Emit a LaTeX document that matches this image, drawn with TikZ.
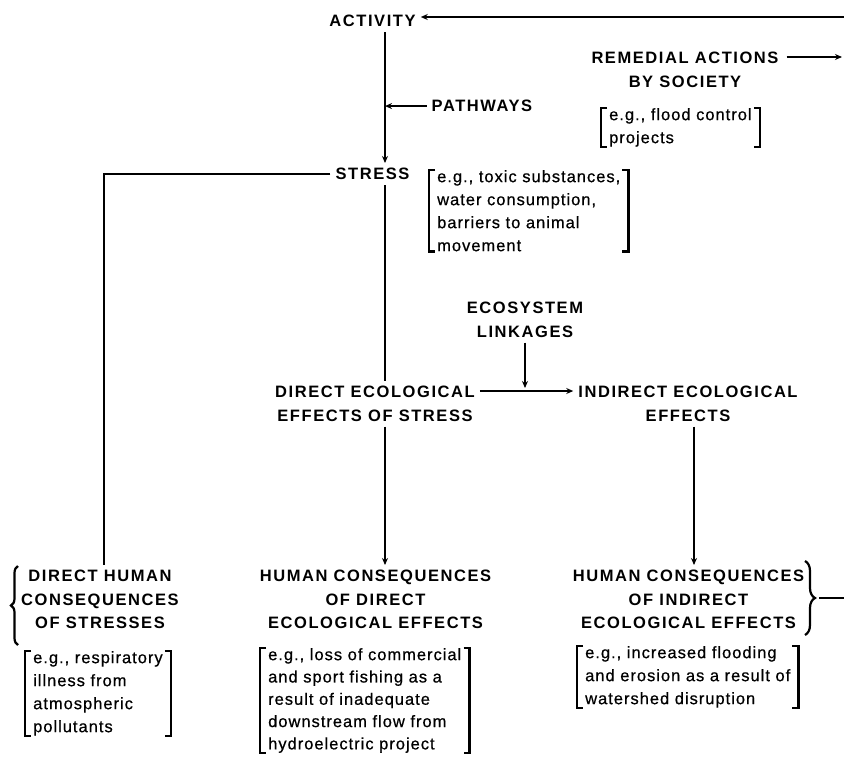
\documentclass[tikz,border=0pt]{standalone}
\usepackage{fontspec}
\setmainfont{Liberation Sans}[LetterSpace=6,FakeBold=0.6]
\newfontfamily\headfont{Liberation Sans}[LetterSpace=9.5]
\usetikzlibrary{arrows.meta,decorations.pathreplacing}
\newcommand\bracketize[1]{%
  \draw[brk] ([xshift=6pt]#1.north west) -- (#1.north west) -- (#1.south west) -- ([xshift=6pt]#1.south west);
  \draw[brk] ([xshift=-6pt]#1.north east) -- (#1.north east) -- (#1.south east) -- ([xshift=-6pt]#1.south east);}
\begin{document}
\begin{tikzpicture}[x=1pt,y=-1pt,
  head/.style={font={\headfont\bfseries\fontsize{16.5}{23.5}\selectfont}, align=center, inner sep=5pt, anchor=north},
  ex/.style={font={\fontsize{16.5}{23}\selectfont}, align=left, inner xsep=8pt, inner ysep=0pt, anchor=north west},
  ln/.style={line width=1.6pt},
  arr/.style={ln, -{Stealth[length=7pt,width=6pt]}},
  brk/.style={line width=2.2pt}]
\useasboundingbox (0,0) rectangle (844,756);
\fill[white] (0,0) rectangle (844,756);
% headings
\node[head] (act) at (372.5,10) {ACTIVITY};
\node[head] (rem) at (685,47) {REMEDIAL ACTIONS\\BY SOCIETY};
\node[head] (pw) at (482,95) {PATHWAYS};
\node[head] (stress) at (372.5,163) {STRESS};
\node[head] (eco) at (525,297) {ECOSYSTEM\\LINKAGES};
\node[head] (decol) at (375,381) {DIRECT ECOLOGICAL\\EFFECTS OF STRESS};
\node[head] (indir) at (688,381) {INDIRECT ECOLOGICAL\\EFFECTS};
\node[head] (dh) at (100,565) {DIRECT HUMAN\\CONSEQUENCES\\OF STRESSES};
\node[head] (hcd) at (375.5,565) {HUMAN CONSEQUENCES\\OF DIRECT\\ECOLOGICAL EFFECTS};
\node[head] (hci) at (688.5,565) {HUMAN CONSEQUENCES\\OF INDIRECT\\ECOLOGICAL EFFECTS};
% examples
\node[ex] (exflood) at (601,108) {e.g., flood control\\projects};
\node[ex] (extox) at (429,170) {e.g., toxic substances,\\water consumption,\\barriers to animal\\movement};
\node[ex] (exresp) at (25,651) {e.g., respiratory\\illness from\\atmospheric\\pollutants};
\node[ex, font={\fontsize{16.5}{22.3}\selectfont}] (exloss) at (260,648) {e.g., loss of commercial\\and sport fishing as a\\result of inadequate\\downstream flow from\\hydroelectric project};
\node[ex] (exflo) at (577,646) {e.g., increased flooding\\and erosion as a result of\\watershed disruption};
\bracketize{exflood}
\bracketize{extox}
\bracketize{exresp}
\bracketize{exloss}
\bracketize{exflo}
% coordinates
\coordinate (spine) at (385,0);
\coordinate (rspine) at (694,0);
\coordinate (topr) at (844,17);
\coordinate (remtip) at (842,57);
\coordinate (corner) at (104,174);
\coordinate (jn) at (525,391);
\coordinate (lbb) at (18,645);
\coordinate (lbt) at (18,566);
\coordinate (rbt) at (805,561);
\coordinate (rbb) at (805,635);
\coordinate (rbtip) at (819,598);
\coordinate (rbend) at (844,598);
% connectors
\draw[arr] (topr) -- (topr -| act.east);
\draw[arr, shorten <=3pt] (rem.east |- remtip) -- (remtip);
\draw[arr] (act.south -| spine) -- (stress.north -| spine);
\draw[arr] (pw.west) -- (pw.west -| spine);
\draw[ln] (stress.west |- corner) -- (corner) -- (dh.north -| corner);
\draw[ln] (stress.south -| spine) -- (decol.north -| spine);
\draw[arr] (decol.south -| spine) -- (hcd.north -| spine);
\draw[arr] (indir.south -| rspine) -- (hci.north -| rspine);
\draw[arr, shorten >=3pt] (eco.south -| jn) -- (jn);
\draw[ln] (decol.east |- jn) -- (jn);
\draw[arr] (jn) -- (jn -| indir.west);
% braces
\draw[brk, decorate, decoration={brace, amplitude=7pt}] (lbb) -- (lbt);
\draw[brk, decorate, decoration={brace, amplitude=10pt}] (rbt) -- (rbb);
\draw[ln] (rbtip) -- (rbend);
\end{tikzpicture}
\end{document}
